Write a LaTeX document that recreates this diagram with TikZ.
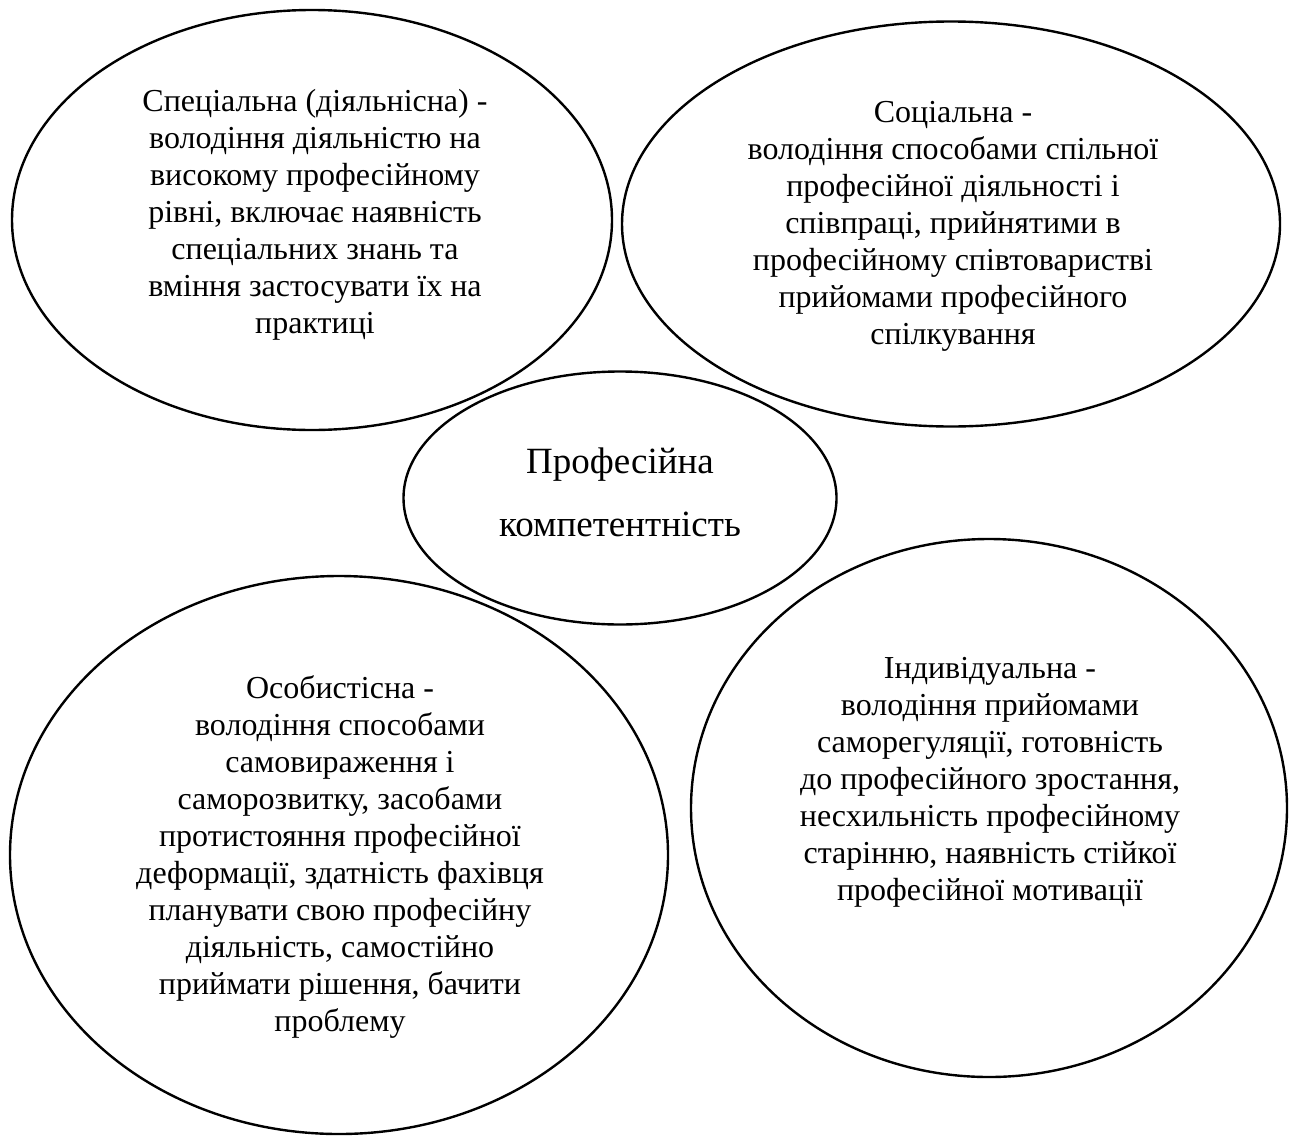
\documentclass[tikz,border=0pt]{standalone}
\usepackage{fontspec}
\setmainfont{Liberation Serif}
\usetikzlibrary{shapes.geometric}
\tikzset{
	oval/.style={draw, ellipse, line width=2.4pt, inner sep=0pt},
	txt/.style={align=center, inner sep=0pt, font=\fontsize{32}{37}\selectfont},
	mid/.style={align=center, inner sep=0pt, font=\fontsize{37}{63}\selectfont},
}

\begin{document}
\begin{tikzpicture}[x=1pt,y=-1pt]
	\useasboundingbox (0,0) rectangle (1297,1135);

	\node [oval, minimum width=600, minimum height=420] (spec) at (312,220) {};
	\node [oval, minimum width=658, minimum height=405] (soc) at (951,224) {};
	\node [oval, minimum width=433, minimum height=253] (prof) at (620,498) {};
	\node [oval, minimum width=658, minimum height=558] (osob) at (339,855) {};
	\node [oval, minimum width=596, minimum height=538] (ind) at (989,808) {};

	\node [txt] (spec-t) at (315,215) {Спеціальна (діяльнісна) -\\ володіння діяльністю на\\ високому професійному\\ рівні, включає наявність\\ спеціальних знань та\\ вміння застосувати їх на\\ практиці};
	\node [txt] (soc-t) at (953,226) {Соціальна -\\ володіння способами спільної\\ професійної діяльності і\\ співпраці, прийнятими в\\ професійному співтоваристві\\ прийомами професійного\\ спілкування};
	\node [mid] (prof-t) at (620,492) {Професійна\\ компетентність};
	\node [txt] (osob-t) at (340,857) {Особистісна -\\ володіння способами\\ самовираження і\\ саморозвитку, засобами\\ протистояння професійної\\ деформації, здатність фахівця\\ планувати свою професійну\\ діяльність, самостійно\\ приймати рішення, бачити\\ проблему};
	\node [txt] (ind-t) at (990,782) {Індивідуальна -\\ володіння прийомами\\ саморегуляції, готовність\\ до професійного зростання,\\ несхильність професійному\\ старінню, наявність стійкої\\ професійної мотивації};
\end{tikzpicture}
\end{document}
